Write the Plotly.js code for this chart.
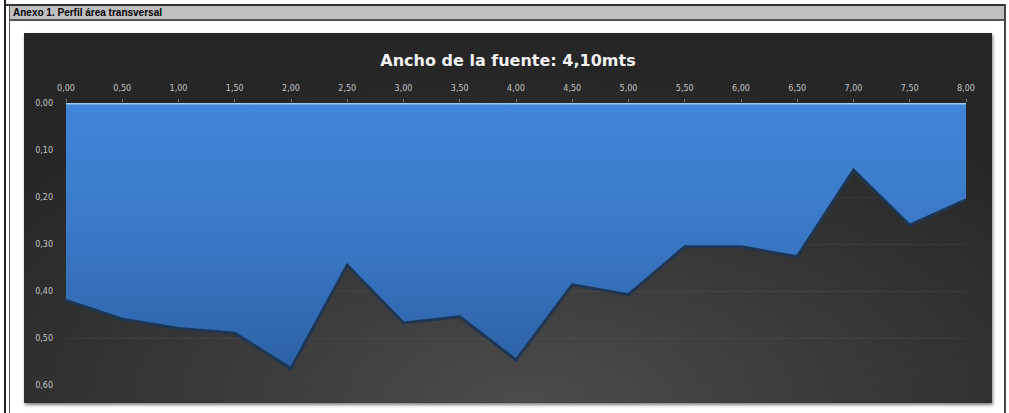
<!DOCTYPE html>
<html><head><meta charset="utf-8">
<script src="https://cdn.plot.ly/plotly-3.0.1.min.js"></script>
<style>
html,body{margin:0;padding:0;background:#fff;width:1009px;height:413px;overflow:hidden;font-family:"Liberation Sans",Arial,sans-serif;}
#frameL1{position:absolute;left:4px;top:0;width:2px;height:413px;background:#222;}
#frameL2{position:absolute;left:9px;top:4px;width:1px;height:409px;background:#555;}
#frameR{position:absolute;left:1004px;top:4px;width:2px;height:409px;background:#444;}
#frameT{position:absolute;left:4px;top:4px;width:1002px;height:2px;background:#333;}
#header{position:absolute;left:10px;top:6px;width:994px;height:15px;background:#bfbfbf;border-bottom:2px solid #555;box-sizing:border-box;font-weight:bold;font-size:10px;line-height:13px;padding-left:3px;color:#000;}
#chartbox{position:absolute;left:24px;top:33px;width:968px;height:370px;
background:radial-gradient(ellipse 70% 90% at 52% 100%, #4c4c4c 0%, #3a3a3a 45%, #262626 100%);
box-shadow:1px 2px 3px rgba(0,0,0,0.5);}
#chart{position:absolute;left:0;top:0;width:968px;height:370px;}
</style></head>
<body>
<div id="frameT"></div><div id="frameL1"></div><div id="frameL2"></div><div id="frameR"></div>
<div id="header">Anexo 1. Perfil área transversal</div>
<div id="chartbox"><div id="chart"></div></div>
<script>
const ancho = [0,0.5,1,1.5,2,2.5,3,3.5,4,4.5,5,5.5,6,6.5,7,7.5,8];
const profundidad = [0.42,0.46,0.48,0.49,0.565,0.345,0.468,0.455,0.547,0.387,0.408,0.306,0.306,0.327,0.143,0.26,0.206];
const xTickVals = [0,0.5,1,1.5,2,2.5,3,3.5,4,4.5,5,5.5,6,6.5,7,7.5,8];
const xTickText = ["0,00","0,50","1,00","1,50","2,00","2,50","3,00","3,50","4,00","4,50","5,00","5,50","6,00","6,50","7,00","7,50","8,00"];
const yTickVals = [0,0.1,0.2,0.3,0.4,0.5,0.6];
const yTickText = ["0,00","0,10","0,20","0,30","0,40","0,50","0,60"];
const titulo = "Ancho de la fuente: 4,10mts";

const trace = {
  x: ancho, y: profundidad, type: 'scatter', mode: 'lines',
  fill: 'tozeroy',
  fillgradient: {type: 'vertical', colorscale: [[0,'#2c62a6'],[0.5,'#3a78c6'],[1,'#4186d9']]},
  line: {color: '#1d3656', width: 3},
  hoverinfo: 'skip', showlegend: false
};
const layout = {
  width: 968, height: 370,
  margin: {l: 42, r: 26, t: 70, b: 18},
  paper_bgcolor: 'rgba(0,0,0,0)', plot_bgcolor: 'rgba(0,0,0,0)',
  title: {text: titulo, x: 0.5, xanchor: 'center', y: 0.925, yanchor: 'middle',
    font: {family: 'DejaVu Sans', size: 16, color: '#f2f2f2', weight: 'bold'}},
  xaxis: {side: 'top', range: [0, 8], tickvals: xTickVals, ticktext: xTickText,
    tickfont: {family: 'DejaVu Sans', size: 8, color: '#c4c4c4'},
    ticks: 'outside', ticklen: 3, tickcolor: '#777', ticklabelstandoff: 5,
    showgrid: false, zeroline: false, showline: false, fixedrange: true},
  yaxis: {range: [0.6, 0], tickvals: yTickVals, ticktext: yTickText,
    tickfont: {family: 'DejaVu Sans', size: 8, color: '#c4c4c4'},
    ticklabelstandoff: 12,
    showgrid: true, gridcolor: 'rgba(255,255,255,0.05)', zeroline: false, showline: false,
    fixedrange: true},
  shapes: [{type: 'line', xref: 'x', yref: 'y', x0: ancho[0], x1: ancho[ancho.length-1], y0: 0, y1: 0,
    line: {color: '#9cc8f2', width: 3}}]
};
Plotly.newPlot('chart', [trace], layout, {staticPlot: true, displayModeBar: false});
</script>
</body></html>
